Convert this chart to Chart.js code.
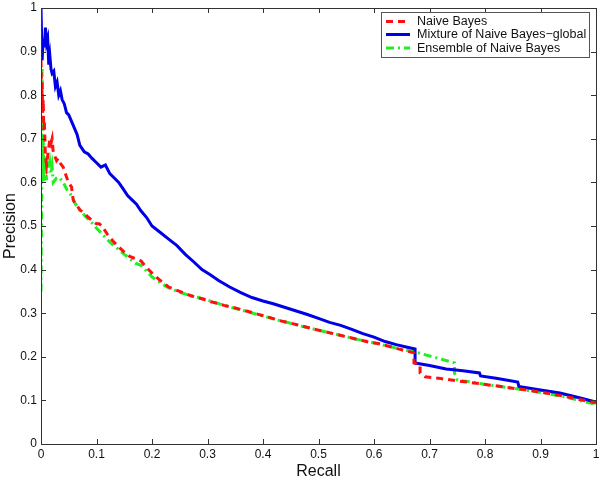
<!DOCTYPE html>
<html>
<head>
<meta charset="utf-8">
<script src="https://cdn.jsdelivr.net/npm/chart.js@4.4.1/dist/chart.umd.min.js"></script>
<style>
  html, body { margin: 0; padding: 0; background: #fff; }
  canvas { display: block; }
</style>
</head>
<body>
<canvas id="prChart" width="600" height="480"></canvas>
<script>
// values
const seriesNames = ['Naive Bayes', 'Mixture of Naive Bayes\u2212global', 'Ensemble of Naive Bayes'];

const nbRecall = [0, 0.001, 0.002, 0.003, 0.004, 0.005, 0.006, 0.008, 0.010, 0.012, 0.014, 0.016, 0.018, 0.020, 0.022, 0.025, 0.028, 0.031, 0.034, 0.037, 0.040, 0.044, 0.048, 0.052, 0.055, 0.058, 0.062, 0.066, 0.070, 0.075, 0.080, 0.085, 0.090, 0.095, 0.100, 0.105, 0.110, 0.115, 0.120, 0.130, 0.140, 0.150, 0.160, 0.170, 0.180, 0.190, 0.200, 0.215, 0.230, 0.250, 0.270, 0.290, 0.310, 0.330, 0.350, 0.370, 0.390, 0.410, 0.430, 0.450, 0.470, 0.490, 0.510, 0.530, 0.550, 0.570, 0.590, 0.610, 0.630, 0.650, 0.672, 0.672, 0.683, 0.683, 0.692, 0.72, 0.75, 0.78, 0.81, 0.85, 0.88, 0.91, 0.94, 0.97, 1.0];
const nbPrecision = [0.88, 0.80, 0.83, 0.76, 0.79, 0.72, 0.74, 0.66, 0.64, 0.66, 0.68, 0.70, 0.69, 0.70, 0.67, 0.66, 0.65, 0.655, 0.645, 0.64, 0.635, 0.62, 0.605, 0.595, 0.59, 0.56, 0.55, 0.545, 0.537, 0.532, 0.527, 0.52, 0.515, 0.51, 0.505, 0.505, 0.50, 0.49, 0.48, 0.465, 0.452, 0.44, 0.43, 0.425, 0.42, 0.405, 0.392, 0.375, 0.36, 0.35, 0.34, 0.333, 0.325, 0.318, 0.312, 0.305, 0.298, 0.291, 0.283, 0.277, 0.271, 0.264, 0.258, 0.252, 0.246, 0.240, 0.234, 0.230, 0.223, 0.216, 0.209, 0.186, 0.181, 0.163, 0.154, 0.150, 0.145, 0.140, 0.135, 0.128, 0.123, 0.117, 0.110, 0.102, 0.094];

const mixRecall = [0, 0.002, 0.004, 0.006, 0.008, 0.010, 0.012, 0.014, 0.016, 0.018, 0.020, 0.023, 0.026, 0.029, 0.032, 0.035, 0.038, 0.042, 0.046, 0.050, 0.055, 0.060, 0.065, 0.070, 0.078, 0.085, 0.092, 0.100, 0.108, 0.116, 0.124, 0.132, 0.140, 0.148, 0.156, 0.164, 0.172, 0.180, 0.190, 0.200, 0.215, 0.230, 0.245, 0.260, 0.275, 0.290, 0.305, 0.320, 0.340, 0.360, 0.380, 0.400, 0.420, 0.440, 0.460, 0.480, 0.500, 0.520, 0.540, 0.560, 0.580, 0.600, 0.620, 0.640, 0.660, 0.674, 0.674, 0.700, 0.730, 0.760, 0.790, 0.792, 0.820, 0.859, 0.861, 0.900, 0.935, 0.970, 1.0];
const mixPrecision = [1.0, 0.88, 0.93, 0.91, 0.955, 0.92, 0.93, 0.87, 0.89, 0.86, 0.85, 0.855, 0.82, 0.83, 0.80, 0.81, 0.79, 0.78, 0.76, 0.755, 0.74, 0.725, 0.71, 0.685, 0.67, 0.665, 0.655, 0.645, 0.635, 0.64, 0.62, 0.61, 0.60, 0.585, 0.57, 0.56, 0.55, 0.535, 0.52, 0.50, 0.485, 0.47, 0.455, 0.435, 0.418, 0.40, 0.388, 0.375, 0.36, 0.347, 0.336, 0.328, 0.321, 0.313, 0.305, 0.297, 0.288, 0.279, 0.272, 0.263, 0.253, 0.245, 0.235, 0.228, 0.222, 0.218, 0.186, 0.18, 0.172, 0.168, 0.163, 0.156, 0.151, 0.142, 0.132, 0.124, 0.117, 0.106, 0.096];

const ensRecall = [0, 0.001, 0.002, 0.003, 0.004, 0.005, 0.006, 0.007, 0.008, 0.010, 0.012, 0.014, 0.016, 0.018, 0.020, 0.022, 0.025, 0.028, 0.031, 0.034, 0.037, 0.040, 0.044, 0.048, 0.052, 0.056, 0.060, 0.065, 0.070, 0.075, 0.080, 0.090, 0.100, 0.110, 0.120, 0.130, 0.140, 0.150, 0.160, 0.170, 0.180, 0.190, 0.200, 0.215, 0.230, 0.250, 0.270, 0.290, 0.310, 0.330, 0.350, 0.370, 0.390, 0.410, 0.430, 0.450, 0.470, 0.490, 0.510, 0.530, 0.550, 0.570, 0.590, 0.610, 0.630, 0.650, 0.674, 0.700, 0.720, 0.745, 0.745, 0.750, 0.78, 0.81, 0.85, 0.88, 0.91, 0.94, 0.97, 1.0];
const ensPrecision = [0.35, 0.55, 0.86, 0.62, 0.70, 0.60, 0.66, 0.62, 0.64, 0.605, 0.65, 0.63, 0.645, 0.62, 0.636, 0.60, 0.605, 0.61, 0.612, 0.61, 0.605, 0.60, 0.59, 0.58, 0.575, 0.567, 0.555, 0.545, 0.537, 0.53, 0.522, 0.51, 0.495, 0.482, 0.468, 0.456, 0.446, 0.435, 0.425, 0.415, 0.41, 0.397, 0.383, 0.37, 0.358, 0.348, 0.34, 0.334, 0.326, 0.318, 0.311, 0.304, 0.297, 0.29, 0.283, 0.277, 0.27, 0.264, 0.258, 0.252, 0.246, 0.240, 0.235, 0.229, 0.223, 0.217, 0.211, 0.202, 0.195, 0.186, 0.163, 0.147, 0.141, 0.135, 0.128, 0.122, 0.116, 0.109, 0.1, 0.091];

const tickValues = [0, 0.1, 0.2, 0.3, 0.4, 0.5, 0.6, 0.7, 0.8, 0.9, 1];
const xTitle = 'Recall';
const yTitle = 'Precision';

const FONT = '"Liberation Sans", Arial, Helvetica, sans-serif';
const AXIS_COLOR = '#333';
const TEXT_COLOR = '#111';

function toPoints(xs, ys) {
    return xs.map((x, i) => ({ x: x, y: ys[i] }));
}

function fmtTick(v) {
    return String(Math.round(v * 10) / 10);
}

// matlab-ish box, inward ticks, labels and legend inside the axes
const boxPlugin = {
    id: 'matlabBox',
    afterDraw(chart) {
        const { ctx, chartArea: a, scales } = chart;
        const xs = scales.x, ys = scales.y;
        const tl = 5;
        ctx.save();
        ctx.strokeStyle = AXIS_COLOR;
        ctx.lineWidth = 1;
        ctx.strokeRect(Math.round(a.left) + 0.5, Math.round(a.top) + 0.5, Math.round(a.width), Math.round(a.height));

        ctx.beginPath();
        tickValues.forEach(v => {
            const px = Math.round(xs.getPixelForValue(v)) + 0.5;
            ctx.moveTo(px, a.bottom); ctx.lineTo(px, a.bottom - tl);
            ctx.moveTo(px, a.top); ctx.lineTo(px, a.top + tl);
            const py = Math.round(ys.getPixelForValue(v)) + 0.5;
            ctx.moveTo(a.left, py); ctx.lineTo(a.left + tl, py);
            ctx.moveTo(a.right, py); ctx.lineTo(a.right - tl, py);
        });
        ctx.stroke();

        // tick labels
        ctx.fillStyle = TEXT_COLOR;
        ctx.font = '12px ' + FONT;
        ctx.textBaseline = 'middle';
        ctx.textAlign = 'center';
        tickValues.forEach(v => {
            ctx.fillText(fmtTick(v), xs.getPixelForValue(v), a.bottom + 11);
        });
        ctx.textAlign = 'right';
        tickValues.forEach(v => {
            ctx.fillText(fmtTick(v), a.left - 4, ys.getPixelForValue(v));
        });

        // axis titles
        ctx.font = '16px ' + FONT;
        ctx.textAlign = 'center';
        ctx.fillText(xTitle, (a.left + a.right) / 2, a.bottom + 28);
        ctx.save();
        ctx.translate(11, (a.top + a.bottom) / 2);
        ctx.rotate(-Math.PI / 2);
        ctx.fillText(yTitle, 0, 0);
        ctx.restore();

        // legend
        const lx = 381.5, ly = 12.5, lw = 208, lh = 45;
        ctx.fillStyle = '#fff';
        ctx.fillRect(lx, ly, lw, lh);
        ctx.strokeStyle = '#555';
        ctx.lineWidth = 1;
        ctx.strokeRect(lx, ly, lw, lh);
        const rows = [21.5, 34.5, 48];
        ctx.font = '12.5px ' + FONT;
        ctx.textAlign = 'left';
        ctx.textBaseline = 'middle';
        chart.data.datasets.forEach((ds, i) => {
            const ry = rows[i];
            ctx.beginPath();
            ctx.strokeStyle = ds.borderColor;
            ctx.lineWidth = ds.borderWidth;
            ctx.setLineDash(ds.borderDash || []);
            ctx.moveTo(386, ry); ctx.lineTo(410, ry);
            ctx.stroke();
            ctx.setLineDash([]);
            ctx.fillStyle = TEXT_COLOR;
            ctx.fillText(seriesNames[i], 417, ry + 0.5);
        });
        ctx.restore();
    }
};

const ctx = document.getElementById('prChart').getContext('2d');

new Chart(ctx, {
    type: 'scatter',
    data: {
        datasets: [
            {
                label: seriesNames[0],
                data: toPoints(nbRecall, nbPrecision),
                borderColor: '#ff1010',
                borderWidth: 3,
                borderDash: [7, 5],
                order: 0
            },
            {
                label: seriesNames[1],
                data: toPoints(mixRecall, mixPrecision),
                borderColor: '#0000e6',
                borderWidth: 3,
                order: 1
            },
            {
                label: seriesNames[2],
                data: toPoints(ensRecall, ensPrecision),
                borderColor: '#22ee22',
                borderWidth: 3,
                borderDash: [8, 4, 2, 4],
                order: 2
            }
        ]
    },
    options: {
        responsive: false,
        animation: false,
        showLine: true,
        elements: {
            point: { radius: 0, hoverRadius: 0 },
            line: { tension: 0, fill: false }
        },
        layout: { padding: { top: 8, right: 4, left: 0, bottom: 0 } },
        plugins: {
            legend: { display: false },
            tooltip: { enabled: false }
        },
        scales: {
            x: {
                type: 'linear',
                min: 0,
                max: 1,
                afterFit: s => { s.height = 36; },
                grid: { display: false },
                border: { display: false },
                ticks: { display: false }
            },
            y: {
                type: 'linear',
                min: 0,
                max: 1,
                afterFit: s => { s.width = 41; },
                grid: { display: false },
                border: { display: false },
                ticks: { display: false }
            }
        }
    },
    plugins: [boxPlugin]
});
</script>
</body>
</html>
